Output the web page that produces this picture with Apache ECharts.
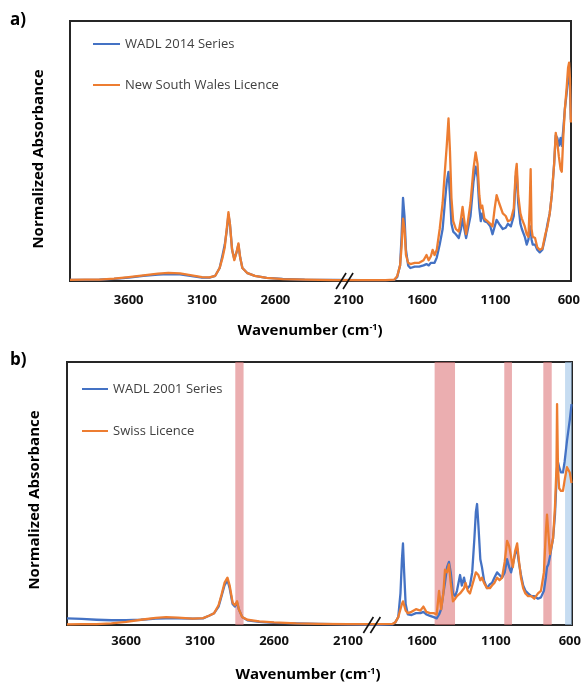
<!DOCTYPE html>
<html>
<head>
<meta charset="utf-8">
<script src="https://cdn.jsdelivr.net/npm/echarts@6/dist/echarts.min.js"></script>
<style>
  html, body { margin: 0; padding: 0; background: #fff; }
  #chart { width: 585px; height: 682px; }
</style>
</head>
<body>
<div id="chart"></div>
<script>
// Tick labels shared by both spectra (cm-1)
const tickLabels = [3600, 3100, 2600, 2100, 1600, 1100, 600];

// Panel a: wavenumbers (cm-1) and normalized absorbance
const wavenumbersA = [4000, 3900, 3800, 3700, 3600, 3500, 3400, 3330, 3250, 3180, 3100, 3050, 3010, 2980, 2960, 2945, 2930, 2920, 2910, 2895, 2880, 2865, 2852, 2840, 2825, 2790, 2740, 2660, 2550, 2400, 2200, 2000, 1850, 1790, 1770, 1750, 1740, 1730, 1720, 1710, 1695, 1680, 1650, 1620, 1590, 1570, 1555, 1540, 1528, 1515, 1500, 1480, 1460, 1445, 1432, 1420, 1410, 1400, 1388, 1370, 1350, 1335, 1324, 1312, 1300, 1290, 1270, 1250, 1235, 1222, 1210, 1200, 1190, 1175, 1155, 1135, 1120, 1105, 1092, 1075, 1050, 1030, 1015, 995, 975, 962, 955, 945, 930, 920, 900, 887, 875, 866, 860, 854, 846, 830, 815, 798, 780, 760, 745, 730, 716, 700, 689, 678, 668, 656, 648, 638, 627, 615, 605, 598, 592, 586];
const wadl2014 = [0.004, 0.004, 0.005, 0.008, 0.013, 0.02, 0.025, 0.027, 0.026, 0.02, 0.013, 0.013, 0.02, 0.05, 0.1, 0.14, 0.2, 0.255, 0.22, 0.12, 0.085, 0.11, 0.14, 0.09, 0.05, 0.03, 0.02, 0.012, 0.008, 0.005, 0.004, 0.003, 0.003, 0.004, 0.015, 0.06, 0.17, 0.32, 0.25, 0.12, 0.06, 0.05, 0.055, 0.055, 0.06, 0.065, 0.06, 0.07, 0.075, 0.07, 0.09, 0.14, 0.2, 0.3, 0.38, 0.42, 0.33, 0.22, 0.19, 0.18, 0.165, 0.2, 0.24, 0.2, 0.165, 0.165, 0.25, 0.38, 0.44, 0.4, 0.28, 0.23, 0.26, 0.23, 0.225, 0.21, 0.18, 0.21, 0.235, 0.22, 0.2, 0.205, 0.22, 0.21, 0.25, 0.4, 0.42, 0.3, 0.22, 0.2, 0.17, 0.14, 0.16, 0.2, 0.21, 0.16, 0.14, 0.14, 0.12, 0.11, 0.12, 0.17, 0.22, 0.26, 0.33, 0.45, 0.56, 0.55, 0.52, 0.55, 0.52, 0.58, 0.66, 0.72, 0.78, 0.82, 0.75, 0.62];
const nswLicence = [0.004, 0.005, 0.005, 0.009, 0.015, 0.022, 0.028, 0.031, 0.029, 0.023, 0.015, 0.014, 0.02, 0.05, 0.09, 0.13, 0.21, 0.265, 0.22, 0.12, 0.08, 0.11, 0.145, 0.09, 0.05, 0.03, 0.02, 0.012, 0.007, 0.005, 0.003, 0.003, 0.003, 0.005, 0.018, 0.06, 0.13, 0.24, 0.2, 0.1, 0.07, 0.065, 0.07, 0.07, 0.08, 0.1, 0.08, 0.095, 0.12, 0.1, 0.12, 0.2, 0.3, 0.42, 0.52, 0.625, 0.5, 0.32, 0.23, 0.2, 0.19, 0.24, 0.285, 0.23, 0.18, 0.185, 0.3, 0.43, 0.495, 0.45, 0.33, 0.28, 0.29, 0.24, 0.23, 0.22, 0.21, 0.28, 0.33, 0.3, 0.26, 0.25, 0.23, 0.235, 0.28, 0.42, 0.45, 0.33, 0.26, 0.24, 0.21, 0.18, 0.17, 0.3, 0.43, 0.2, 0.17, 0.165, 0.13, 0.12, 0.125, 0.18, 0.21, 0.26, 0.33, 0.45, 0.57, 0.53, 0.48, 0.43, 0.42, 0.55, 0.66, 0.74, 0.82, 0.84, 0.78, 0.61];

// Panel b: wavenumbers (cm-1) and normalized absorbance
const wavenumbersB = [4000, 3900, 3800, 3700, 3600, 3500, 3400, 3330, 3250, 3150, 3080, 3040, 3005, 2975, 2955, 2935, 2915, 2900, 2880, 2865, 2850, 2838, 2815, 2780, 2700, 2600, 2450, 2300, 2100, 1900, 1800, 1780, 1760, 1745, 1735, 1728, 1720, 1710, 1695, 1670, 1640, 1610, 1590, 1570, 1545, 1520, 1500, 1484, 1470, 1455, 1444, 1430, 1417, 1405, 1390, 1375, 1363, 1342, 1330, 1315, 1305, 1290, 1275, 1260, 1245, 1235, 1227, 1218, 1205, 1194, 1180, 1160, 1140, 1126, 1110, 1092, 1075, 1058, 1040, 1024, 1010, 997, 985, 970, 956, 945, 930, 915, 900, 882, 860, 840, 815, 795, 775, 762, 754, 745, 734, 713, 700, 690, 686, 680, 672, 660, 646, 635, 619, 600, 588];
const wadl2001 = [0.025, 0.023, 0.02, 0.018, 0.018, 0.02, 0.024, 0.025, 0.025, 0.024, 0.025, 0.035, 0.045, 0.07, 0.11, 0.15, 0.17, 0.14, 0.08, 0.07, 0.085, 0.06, 0.03, 0.018, 0.012, 0.008, 0.006, 0.004, 0.002, 0.001, 0.002, 0.01, 0.03, 0.12, 0.25, 0.31, 0.2, 0.08, 0.04, 0.038, 0.045, 0.045, 0.05, 0.04, 0.035, 0.03, 0.025, 0.04, 0.06, 0.12, 0.16, 0.22, 0.24, 0.2, 0.12, 0.11, 0.13, 0.19, 0.15, 0.18, 0.15, 0.14, 0.15, 0.2, 0.33, 0.43, 0.46, 0.38, 0.25, 0.22, 0.17, 0.14, 0.155, 0.16, 0.18, 0.2, 0.19, 0.18, 0.2, 0.25, 0.22, 0.2, 0.23, 0.27, 0.29, 0.24, 0.19, 0.15, 0.13, 0.12, 0.11, 0.11, 0.1, 0.105, 0.13, 0.18, 0.22, 0.23, 0.26, 0.33, 0.42, 0.55, 0.6, 0.62, 0.6, 0.58, 0.58, 0.62, 0.7, 0.78, 0.84];
const swissLicence = [0.002, 0.003, 0.003, 0.006, 0.012, 0.02, 0.027, 0.03, 0.028, 0.024, 0.026, 0.035, 0.045, 0.075, 0.115, 0.16, 0.18, 0.15, 0.085, 0.075, 0.09, 0.06, 0.03, 0.02, 0.014, 0.01, 0.006, 0.004, 0.003, 0.003, 0.004, 0.01, 0.03, 0.06, 0.08, 0.09, 0.075, 0.055, 0.045, 0.05, 0.06, 0.055, 0.07, 0.05, 0.045, 0.045, 0.04, 0.13, 0.06, 0.12, 0.21, 0.2, 0.23, 0.16, 0.09, 0.1, 0.11, 0.12, 0.12, 0.14, 0.16, 0.13, 0.12, 0.15, 0.18, 0.2, 0.2, 0.19, 0.17, 0.18, 0.16, 0.14, 0.14, 0.15, 0.16, 0.18, 0.17, 0.18, 0.24, 0.32, 0.3, 0.26, 0.22, 0.28, 0.31, 0.25, 0.18, 0.14, 0.12, 0.11, 0.11, 0.1, 0.12, 0.13, 0.2, 0.35, 0.42, 0.35, 0.27, 0.33, 0.45, 0.6, 0.84, 0.6, 0.52, 0.51, 0.51, 0.55, 0.6, 0.58, 0.54];

// Highlighted regions in panel b (cm-1)
const redBands = [[2806, 2862], [1376, 1514], [991, 1043], [722, 779]];
const blueBands = [[585, 632]];

// Position of the axis break marks (cm-1)
const breakA = 2125;
const breakB = 1935;

const BLUE = '#4472C4';
const ORANGE = '#ED7D31';
const FONT = '"Open Sans", "DejaVu Sans", sans-serif';

function pairs(xs, ys) { return xs.map((x, i) => [x, ys[i]]); }

function xAxisFor(gridIndex, margin) {
  return {
    type: 'value', gridIndex: gridIndex, min: 585, max: 4000, inverse: true,
    axisLine: { show: true, lineStyle: { color: '#262626', width: 2 } },
    axisTick: { show: false },
    splitLine: { show: false },
    axisLabel: {
      customValues: tickLabels, margin: margin,
      formatter: v => String(v),
      color: '#111', fontFamily: FONT, fontWeight: 'bold', fontSize: 13
    }
  };
}
function yAxisFor(gridIndex) {
  return {
    type: 'value', gridIndex: gridIndex, min: 0, max: 1,
    axisLine: { show: true, lineStyle: { color: '#262626', width: 2 } },
    axisTick: { show: false }, axisLabel: { show: false }, splitLine: { show: false }
  };
}
function lineSeries(name, data, color, idx) {
  return {
    name: name, type: 'line', data: data, xAxisIndex: idx, yAxisIndex: idx,
    showSymbol: false, symbol: 'none', z: 3,
    lineStyle: { color: color, width: 2.3, join: 'round' }, itemStyle: { color: color }
  };
}

const chart = echarts.init(document.getElementById('chart'), null, { renderer: 'canvas' });

const option = {
  backgroundColor: '#fff',
  animation: false,
  grid: [
    { left: 70, top: 21, width: 501, height: 260, show: true, borderColor: '#262626', borderWidth: 2, backgroundColor: 'transparent' },
    { left: 67, top: 362, width: 505, height: 263, show: true, borderColor: '#262626', borderWidth: 2, backgroundColor: 'transparent' }
  ],
  xAxis: [xAxisFor(0, 13), xAxisFor(1, 10)],
  yAxis: [yAxisFor(0), yAxisFor(1)],
  legend: [
    {
      data: ['WADL 2014 Series', 'New South Wales Licence'],
      orient: 'vertical', left: 88, top: 31, itemGap: 25,
      itemWidth: 27, itemHeight: 2, icon: 'rect',
      textStyle: { color: '#404040', fontFamily: FONT, fontSize: 13, lineHeight: 16 }
    },
    {
      data: ['WADL 2001 Series', 'Swiss Licence'],
      orient: 'vertical', left: 77, top: 376, itemGap: 26,
      itemWidth: 26, itemHeight: 2, icon: 'rect',
      textStyle: { color: '#404040', fontFamily: FONT, fontSize: 13, lineHeight: 16 }
    }
  ],
  series: [
    lineSeries('WADL 2014 Series', pairs(wavenumbersA, wadl2014), BLUE, 0),
    lineSeries('New South Wales Licence', pairs(wavenumbersA, nswLicence), ORANGE, 0),
    {
      type: 'line', xAxisIndex: 1, yAxisIndex: 1, data: [], z: 1, silent: true,
      markArea: {
        silent: true,
        data: redBands.map(b => [{ xAxis: b[0], itemStyle: { color: 'rgba(221, 120, 124, 0.6)' } }, { xAxis: b[1] }])
          .concat(blueBands.map(b => [{ xAxis: b[0], itemStyle: { color: 'rgba(160, 196, 232, 0.6)' } }, { xAxis: b[1] }]))
      }
    },
    lineSeries('WADL 2001 Series', pairs(wavenumbersB, wadl2001), BLUE, 1),
    lineSeries('Swiss Licence', pairs(wavenumbersB, swissLicence), ORANGE, 1)
  ]
};
chart.setOption(option);

// Panel letters, axis titles and axis-break marks
function breakMark(pt) {
  const els = [];
  [-4, 3].forEach(dx => {
    els.push({
      type: 'line', z: 10,
      shape: { x1: pt[0] + dx - 5, y1: pt[1] + 8, x2: pt[0] + dx + 5, y2: pt[1] - 8 },
      style: { stroke: '#111', lineWidth: 1.6 }
    });
  });
  return els;
}
const pa = chart.convertToPixel({ xAxisIndex: 0, yAxisIndex: 0 }, [breakA, 0]);
const pb = chart.convertToPixel({ xAxisIndex: 1, yAxisIndex: 1 }, [breakB, 0]);

const titleStyle = { fontFamily: FONT, fontWeight: 'bold', fontSize: 15, fill: '#000' };
function xTitle(cx, cy) {
  return {
    type: 'text', x: cx, y: cy,
    style: {
      text: 'Wavenumber (cm{sup|-1})', align: 'center', verticalAlign: 'middle',
      fontFamily: FONT, fontWeight: 'bold', fontSize: 15, fill: '#000',
      rich: { sup: { fontFamily: FONT, fontWeight: 'bold', fontSize: 9, fill: '#000', verticalAlign: 'top', padding: [0, 0, 8, 0] } }
    }
  };
}
function yTitle(cx, cy) {
  return {
    type: 'text', x: cx, y: cy, rotation: Math.PI / 2,
    style: Object.assign({ text: 'Normalized Absorbance', align: 'center', verticalAlign: 'middle' }, titleStyle)
  };
}

chart.setOption({
  graphic: [
    { type: 'text', x: 10, y: 12, style: { text: 'a)', fontFamily: FONT, fontWeight: 'bold', fontSize: 17, fill: '#000' } },
    { type: 'text', x: 10, y: 352, style: { text: 'b)', fontFamily: FONT, fontWeight: 'bold', fontSize: 17, fill: '#000' } },
    xTitle(310, 331),
    xTitle(308, 675),
    yTitle(39, 159),
    yTitle(35, 500)
  ].concat(breakMark(pa)).concat(breakMark(pb))
});
</script>
</body>
</html>
